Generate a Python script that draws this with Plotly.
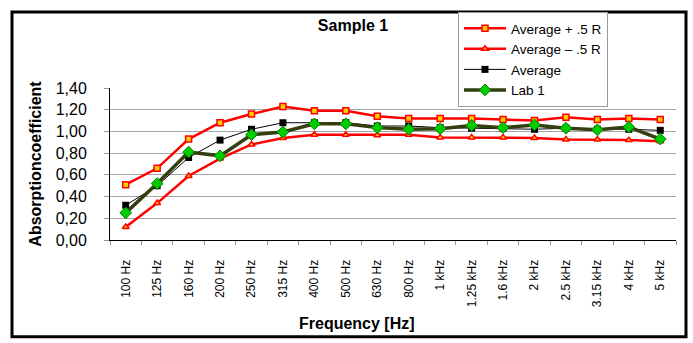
import plotly.graph_objects as go

categories = ["100 Hz", "125 Hz", "160 Hz", "200 Hz", "250 Hz", "315 Hz", "400 Hz", "500 Hz",
              "630 Hz", "800 Hz", "1 kHz", "1.25 kHz", "1.6 kHz", "2 kHz", "2.5 kHz",
              "3.15 kHz", "4 kHz", "5 kHz"]
avg_plus = [0.51, 0.66, 0.93, 1.08, 1.16, 1.23, 1.19, 1.19, 1.14, 1.12, 1.12, 1.12, 1.11, 1.10,
            1.13, 1.11, 1.12, 1.11]
avg_minus = [0.12, 0.34, 0.59, 0.75, 0.88, 0.94, 0.97, 0.97, 0.965, 0.97, 0.945, 0.945, 0.945,
             0.94, 0.925, 0.925, 0.92, 0.91]
average = [0.32, 0.50, 0.76, 0.92, 1.02, 1.08, 1.08, 1.08, 1.05, 1.05, 1.035, 1.03, 1.03, 1.02,
           1.03, 1.02, 1.02, 1.01]
lab1 = [0.25, 0.52, 0.81, 0.775, 0.97, 0.995, 1.07, 1.07, 1.035, 1.02, 1.025, 1.055, 1.035, 1.06,
        1.03, 1.015, 1.04, 0.93]
y_ticks = [0.0, 0.2, 0.4, 0.6, 0.8, 1.0, 1.2, 1.4]

W, H = 693, 343
ML, MR, MT, MB = 110, 17, 82, 103
pw, ph = W - ML - MR, H - MT - MB

def px(x):
    return (x - ML) / pw

def py(y):
    return (H - MB - y) / ph

FONT = "Liberation Sans, Arial, sans-serif"

fig = go.Figure()
fig.add_trace(go.Scatter(
    x=categories, y=avg_plus, name="Average + .5 R", mode="lines+markers",
    line=dict(color="#ff0000", width=2.5),
    marker=dict(symbol="square", size=6, color="#ffcc00", line=dict(color="#ff0000", width=1.5))))
fig.add_trace(go.Scatter(
    x=categories, y=avg_minus, name="Average \u2013 .5 R", mode="lines+markers",
    line=dict(color="#ff0000", width=2.5),
    marker=dict(symbol="triangle-up", size=6, color="#ffcc00", line=dict(color="#ff0000", width=1.5))))
fig.add_trace(go.Scatter(
    x=categories, y=average, name="Average", mode="lines+markers",
    line=dict(color="#000000", width=1),
    marker=dict(symbol="square", size=7, color="#000000")))
fig.add_trace(go.Scatter(
    x=categories, y=lab1, name="Lab 1", mode="lines+markers",
    line=dict(color="#333f10", width=3.5),
    marker=dict(symbol="diamond", size=9, color="#00cc00", line=dict(color="#008000", width=1))))

fig.update_layout(
    width=W, height=H, autosize=False,
    margin=dict(l=ML, r=MR, t=MT, b=MB, pad=0),
    paper_bgcolor="white", plot_bgcolor="white",
    separators=",.",
    font=dict(family=FONT, color="black"),
    title=dict(text="<b>Sample 1</b>", font=dict(size=16, family=FONT),
               x=353 / W, xanchor="center", y=1 - 25 / H, yanchor="middle"),
    showlegend=True,
    legend=dict(x=px(458), y=py(3), xanchor="left", yanchor="top",
                bgcolor="white", bordercolor="#999999", borderwidth=1,
                font=dict(size=13.5, family=FONT), tracegroupgap=0, itemwidth=42),
    xaxis=dict(type="category", categoryorder="array", categoryarray=categories,
               showline=True, linecolor="black", linewidth=1, mirror=False,
               showgrid=False, ticks="outside", tickson="boundaries", ticklen=4,
               tickcolor="#999999", tickangle=-90, tickfont=dict(size=12, family=FONT),
               ticklabelstandoff=14,
               range=[-0.5, len(categories) - 0.5]),
    yaxis=dict(range=[0, 1.4], tickvals=y_ticks, tickformat=".2f",
               showline=True, linecolor="black", linewidth=1,
               showgrid=True, gridcolor="#a6a6a6", gridwidth=1,
               ticks="outside", ticklen=5, tickcolor="#999999",
               tickfont=dict(size=16, family=FONT), ticklabelstandoff=14,
               zeroline=False,
               title=dict(text="<b>Absorptioncoefficient</b>", font=dict(size=16, family=FONT),
                          standoff=10)),
    annotations=[dict(text="<b>Frequency [Hz]</b>", xref="paper", yref="paper",
                      x=px(357), y=py(327), xanchor="center", yanchor="middle",
                      showarrow=False, font=dict(size=16, family=FONT))],
    shapes=[dict(type="rect", xref="paper", yref="paper",
                 x0=px(12), x1=px(686), y0=py(340.5), y1=py(3),
                 line=dict(color="black", width=3), fillcolor="rgba(0,0,0,0)", layer="below")],
)

fig.write_html("out.html")
